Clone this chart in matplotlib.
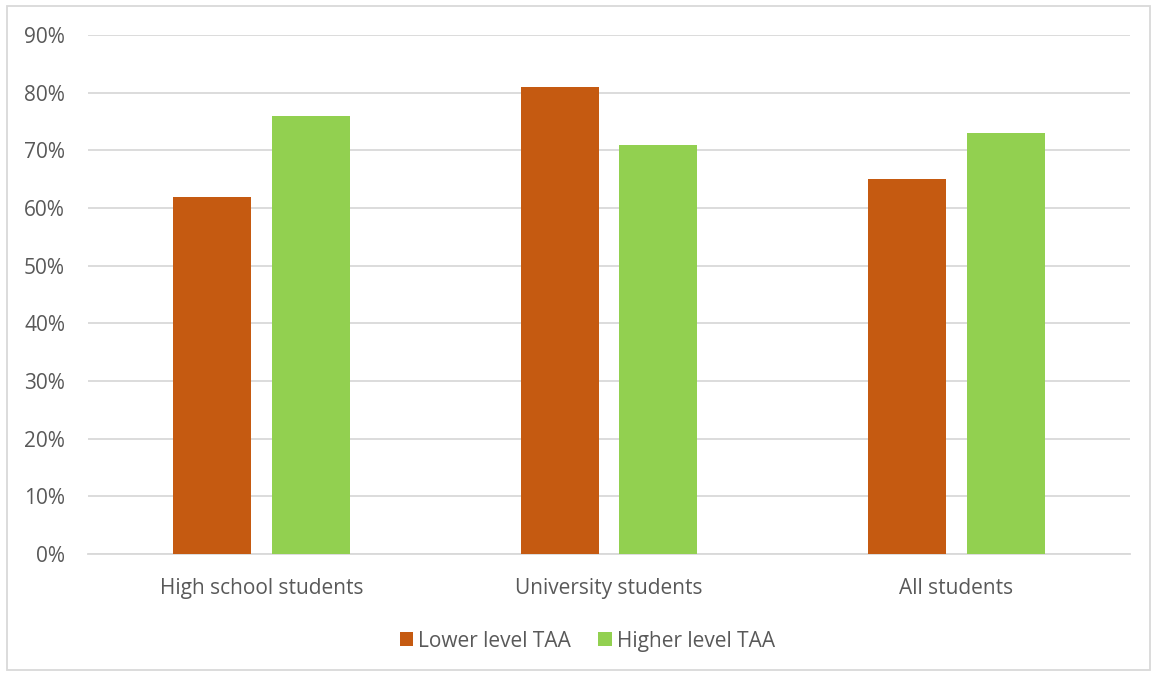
import numpy as np
import matplotlib.pyplot as plt
from matplotlib.patches import Rectangle

plt.rcParams['font.family'] = ['Open Sans', 'DejaVu Sans']

# data
categories = ["High school students", "University students", "All students"]
lower_taa = [62, 81, 65]
higher_taa = [76, 71, 73]
series_names = ["Lower level TAA", "Higher level TAA"]

c_lower = "#C55A11"
c_higher = "#92D050"
txt = "#595959"
grid_c = "#D9D9D9"

fig = plt.figure(figsize=(11.52, 6.75), dpi=100)
ax = fig.add_axes([0.0764, 0.179, 0.9046, 0.769])

x = np.arange(len(categories))
w = 0.224
off = 0.142
ax.bar(x - off, lower_taa, w, color=c_lower, label=series_names[0], zorder=3)
ax.bar(x + off, higher_taa, w, color=c_higher, label=series_names[1], zorder=3)

ax.set_xlim(-0.5, len(categories) - 0.5)
ax.set_ylim(0, 90)
ax.set_yticks(np.arange(0, 91, 10))
ax.set_yticklabels([f"{v}%" for v in range(0, 91, 10)])
ax.set_xticks(x)
ax.set_xticklabels(categories)
ax.yaxis.grid(True, color=grid_c, linewidth=1.3, zorder=0)
ax.tick_params(axis='both', length=0, labelsize=15, labelcolor=txt)
ax.tick_params(axis='y', pad=16.5)
ax.tick_params(axis='x', pad=17)
for s in ['top', 'right', 'left']:
    ax.spines[s].set_visible(False)
ax.spines['bottom'].set_color(grid_c)
ax.spines['bottom'].set_linewidth(1.3)

leg = fig.legend(loc='center', bbox_to_anchor=(0.51, 0.05), ncol=2, frameon=False,
                 fontsize=15, handlelength=0.65, handleheight=0.65, handletextpad=0.25,
                 columnspacing=1.3)
for t in leg.get_texts():
    t.set_color(txt)

# outer chart border
fig.patches.append(Rectangle((0.006, 0.007), 0.992, 0.984, transform=fig.transFigure,
                             fill=False, edgecolor=grid_c, linewidth=1.3))

fig.savefig("out.png", dpi=100)
